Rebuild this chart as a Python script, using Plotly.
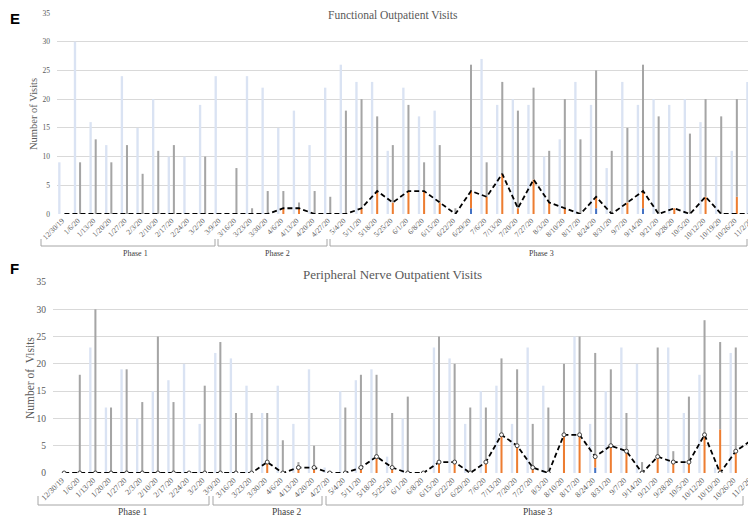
import plotly.graph_objects as go

# page body has an 8px margin; lay everything out in window pixels and shift
OFF = 8
W, H = 756 - OFF, 517 - OFF

weeks = ["12/30/19", "1/6/20", "1/13/20", "1/20/20", "1/27/20", "2/3/20", "2/10/20", "2/17/20",
         "2/24/20", "3/2/20", "3/9/20", "3/16/20", "3/23/20", "3/30/20", "4/6/20", "4/13/20",
         "4/20/20", "4/27/20", "5/4/20", "5/11/20", "5/18/20", "5/25/20", "6/1/20", "6/8/20",
         "6/15/20", "6/22/20", "6/29/20", "7/6/20", "7/13/20", "7/20/20", "7/27/20", "8/3/20",
         "8/10/20", "8/17/20", "8/24/20", "8/31/20", "9/7/20", "9/14/20", "9/21/20", "9/28/20",
         "10/5/20", "10/12/20", "10/19/20", "10/26/20", "11/2/20"]
phase_labels = ["Phase 1", "Phase 2", "Phase 3"]

# Panel E: Functional outpatient visits
func_2019 = [9, 30, 16, 12, 24, 15, 20, 10, 10, 19, 24, 0, 24, 22, 15, 18, 12, 22, 26, 23, 23, 11, 22,
             17, 18, 0, 0, 27, 19, 20, 19, 10, 13, 23, 19, 8, 23, 19, 20, 19, 20, 16, 10, 11, 23]
func_inperson = [0, 9, 13, 9, 12, 7, 11, 12, 0, 10, 0, 8, 1, 4, 3, 1, 4, 3, 18, 19, 13, 10, 15, 5,
                 10, 1, 22, 6, 16, 17, 16, 9, 19, 13, 22, 11, 13, 22, 17, 0, 14, 17, 17, 17, 8]
func_video = [0, 0, 0, 0, 0, 0, 0, 0, 0, 0, 0, 0, 0, 0, 1, 1, 0, 0, 0, 1, 4, 2, 4, 4,
              2, 0, 3, 3, 7, 1, 6, 2, 1, 0, 2, 0, 2, 3, 0, 1, 0, 3, 0, 3, 0]
func_phone = [0, 0, 0, 0, 0, 0, 0, 0, 0, 0, 0, 0, 0, 0, 0, 0, 0, 0, 0, 0, 0, 0, 0, 0,
              0, 0, 1, 0, 0, 0, 0, 0, 0, 0, 1, 0, 0, 1, 0, 0, 0, 0, 0, 0, 0]
func_tele = [0, 0, 0, 0, 0, 0, 0, 0, 0, 0, 0, 0, 0, 0, 1, 1, 0, 0, 0, 1, 4, 2, 4, 4,
             2, 0, 4, 3, 7, 1, 6, 2, 1, 0, 3, 0, 2, 4, 0, 1, 0, 3, 0, 0, 0]

# Panel F: Peripheral nerve outpatient visits
nerve_2019 = [0, 0, 23, 12, 19, 10, 15, 17, 20, 9, 22, 21, 16, 11, 16, 9, 19, 1, 15, 17, 19, 3, 10,
              0, 23, 21, 9, 15, 16, 9, 23, 16, 0, 25, 9, 15, 23, 20, 0, 23, 11, 18, 1, 22, 0]
nerve_inperson = [0, 18, 30, 12, 19, 13, 25, 13, 0, 16, 24, 11, 11, 9, 6, 1, 4, 0, 12, 17, 15, 10,
                  14, 0, 23, 18, 12, 10, 14, 14, 8, 12, 13, 18, 19, 14, 7, 2, 20, 2, 12, 21, 16, 19, 8]
nerve_video = [0, 0, 0, 0, 0, 0, 0, 0, 0, 0, 0, 0, 0, 2, 0, 1, 1, 0, 0, 1, 3, 1, 0, 0,
               2, 2, 0, 2, 7, 5, 1, 0, 7, 7, 2, 5, 4, 0, 3, 2, 2, 7, 8, 4, 5]
nerve_phone = [0, 0, 0, 0, 0, 0, 0, 0, 0, 0, 0, 0, 0, 0, 0, 0, 0, 0, 0, 0, 0, 0, 0, 0,
               0, 0, 0, 0, 0, 0, 0, 0, 0, 0, 1, 0, 0, 0, 0, 0, 0, 0, 0, 0, 1]
nerve_tele = [0, 0, 0, 0, 0, 0, 0, 0, 0, 0, 0, 0, 0, 2, 0, 1, 1, 0, 0, 1, 3, 1, 0, 0,
              2, 2, 0, 2, 7, 5, 1, 0, 7, 7, 3, 5, 4, 0, 3, 2, 2, 7, 0, 4, 6]

C_LB = "#DAE3F3"
C_GRAY = "#A5A5A5"
C_ORANGE = "#ED7D31"
C_BLUE = "#4472C4"
TXT = "#595959"
SERIF = "Liberation Serif, Times New Roman, serif"

idx = list(range(len(weeks)))
LB_OFF, LB_W = -0.245, 0.15
ST_OFF, ST_W = 0.09, 0.13
line_x = [i + ST_OFF + ST_W / 2 for i in idx]

fig = go.Figure()


def add_panel(xa, ya, prev, phone, video, inperson, tele, markers):
    fig.add_trace(go.Bar(x=idx, y=prev, offset=LB_OFF, width=LB_W, marker_color=C_LB,
                         marker_line_width=0, xaxis=xa, yaxis=ya, showlegend=False))
    fig.add_trace(go.Bar(x=idx, y=phone, base=[0] * len(idx), offset=ST_OFF, width=ST_W,
                         marker_color=C_BLUE, marker_line_width=0, xaxis=xa, yaxis=ya, showlegend=False))
    fig.add_trace(go.Bar(x=idx, y=video, base=phone, offset=ST_OFF, width=ST_W,
                         marker_color=C_ORANGE, marker_line_width=0, xaxis=xa, yaxis=ya, showlegend=False))
    fig.add_trace(go.Bar(x=idx, y=inperson, base=[p + v for p, v in zip(phone, video)],
                         offset=ST_OFF, width=ST_W, marker_color=C_GRAY, marker_line_width=0,
                         xaxis=xa, yaxis=ya, showlegend=False))
    fig.add_trace(go.Scatter(x=line_x, y=tele, mode="lines+markers" if markers else "lines",
                             line=dict(color="black", width=1.8, dash="5px,3px"),
                             marker=dict(size=4, color="white", line=dict(color="#404040", width=1)),
                             xaxis=xa, yaxis=ya, showlegend=False))


add_panel("x", "y", func_2019, func_phone, func_video, func_inperson, func_tele, False)
add_panel("x2", "y2", nerve_2019, nerve_phone, nerve_video, nerve_inperson, nerve_tele, True)


def px(x):
    return (x - OFF) / W


def py(y):
    return 1 - (y - OFF) / H


xcommon = dict(tickmode="array", tickvals=idx, ticktext=weeks, tickangle=-45, showgrid=False,
               zeroline=False, showline=False, ticks="", automargin=False)
fig.update_layout(
    width=W, height=H, margin=dict(l=0, r=0, t=0, b=0),
    paper_bgcolor="white", plot_bgcolor="white", barmode="overlay",
    font=dict(family=SERIF, color=TXT),
    xaxis=dict(domain=[px(57), 1], range=[-0.32, 44.38], anchor="y",
               tickfont=dict(size=7.5, family=SERIF, color=TXT), **xcommon),
    yaxis=dict(domain=[py(214), py(13)], range=[0, 35], dtick=5, gridcolor="#D9D9D9", gridwidth=1,
               zeroline=False, showline=False, ticks="", anchor="x", automargin=False,
               ticklabelstandoff=6, tickfont=dict(size=7.5, family=SERIF, color=TXT)),
    xaxis2=dict(domain=[px(53), 1], range=[-0.56, 44.45], anchor="y2",
                tickfont=dict(size=8, family=SERIF, color=TXT), **xcommon),
    yaxis2=dict(domain=[py(473), py(282)], range=[0, 35], dtick=5, gridcolor="#D9D9D9", gridwidth=1,
                zeroline=False, showline=False, ticks="", anchor="x2", automargin=False,
                ticklabelstandoff=6, tickfont=dict(size=9.5, family=SERIF, color=TXT)),
)

annotations = [
    dict(text="<b>E</b>", x=px(8), y=py(8), xanchor="left", yanchor="top",
         font=dict(size=15, family="Liberation Sans, Arial, sans-serif", color="black")),
    dict(text="<b>F</b>", x=px(8), y=py(268), xanchor="left", yanchor="middle",
         font=dict(size=15, family="Liberation Sans, Arial, sans-serif", color="black")),
    dict(text="Functional Outpatient Visits", x=px(393), y=py(8), xanchor="center", yanchor="top",
         bgcolor="white", borderpad=0, font=dict(size=11.5, family=SERIF, color=TXT)),
    dict(text="Peripheral Nerve Outpatient Visits", x=px(393), y=py(274), xanchor="center",
         yanchor="middle", font=dict(size=13, family=SERIF, color=TXT)),
    dict(text="Number of Visits", x=px(33), y=py(114), textangle=-90, xanchor="center",
         yanchor="middle", font=dict(size=10.5, family=SERIF, color=TXT)),
    dict(text="Number of  Visits", x=px(30), y=py(378), textangle=-90, xanchor="center",
         yanchor="middle", font=dict(size=11.5, family=SERIF, color=TXT)),
]

# phase brackets (window pixel layout)
brackets_E = [(41, 215), (218, 327), (330, 747)]
labels_E = [135, 277, 541]
brackets_F = [(38, 209), (213, 322), (326, 743)]
labels_F = [133, 287, 538]

shapes = []
for (x0, x1) in brackets_E:
    shapes.append(dict(type="path", xref="paper", yref="paper",
                       path=f"M {px(x0)} {py(239)} L {px(x0)} {py(246)} L {px(x1)} {py(246)} L {px(x1)} {py(239)}",
                       line=dict(color="#A6A6A6", width=1)))
for (x0, x1) in brackets_F:
    shapes.append(dict(type="path", xref="paper", yref="paper",
                       path=f"M {px(x0)} {py(496)} L {px(x0)} {py(505)} L {px(x1)} {py(505)} L {px(x1)} {py(496)}",
                       line=dict(color="#A6A6A6", width=1)))
for lab, cx in zip(phase_labels, labels_E):
    annotations.append(dict(text=lab, x=px(cx), y=py(253), xanchor="center", yanchor="middle",
                            font=dict(size=8, family=SERIF, color="#404040")))
for lab, cx in zip(phase_labels, labels_F):
    annotations.append(dict(text=lab, x=px(cx), y=py(512), xanchor="center", yanchor="middle",
                            font=dict(size=9.5, family=SERIF, color="#404040")))

for a in annotations:
    a.update(xref="paper", yref="paper", showarrow=False)
fig.update_layout(annotations=annotations, shapes=shapes)

fig.write_html("out.html")
